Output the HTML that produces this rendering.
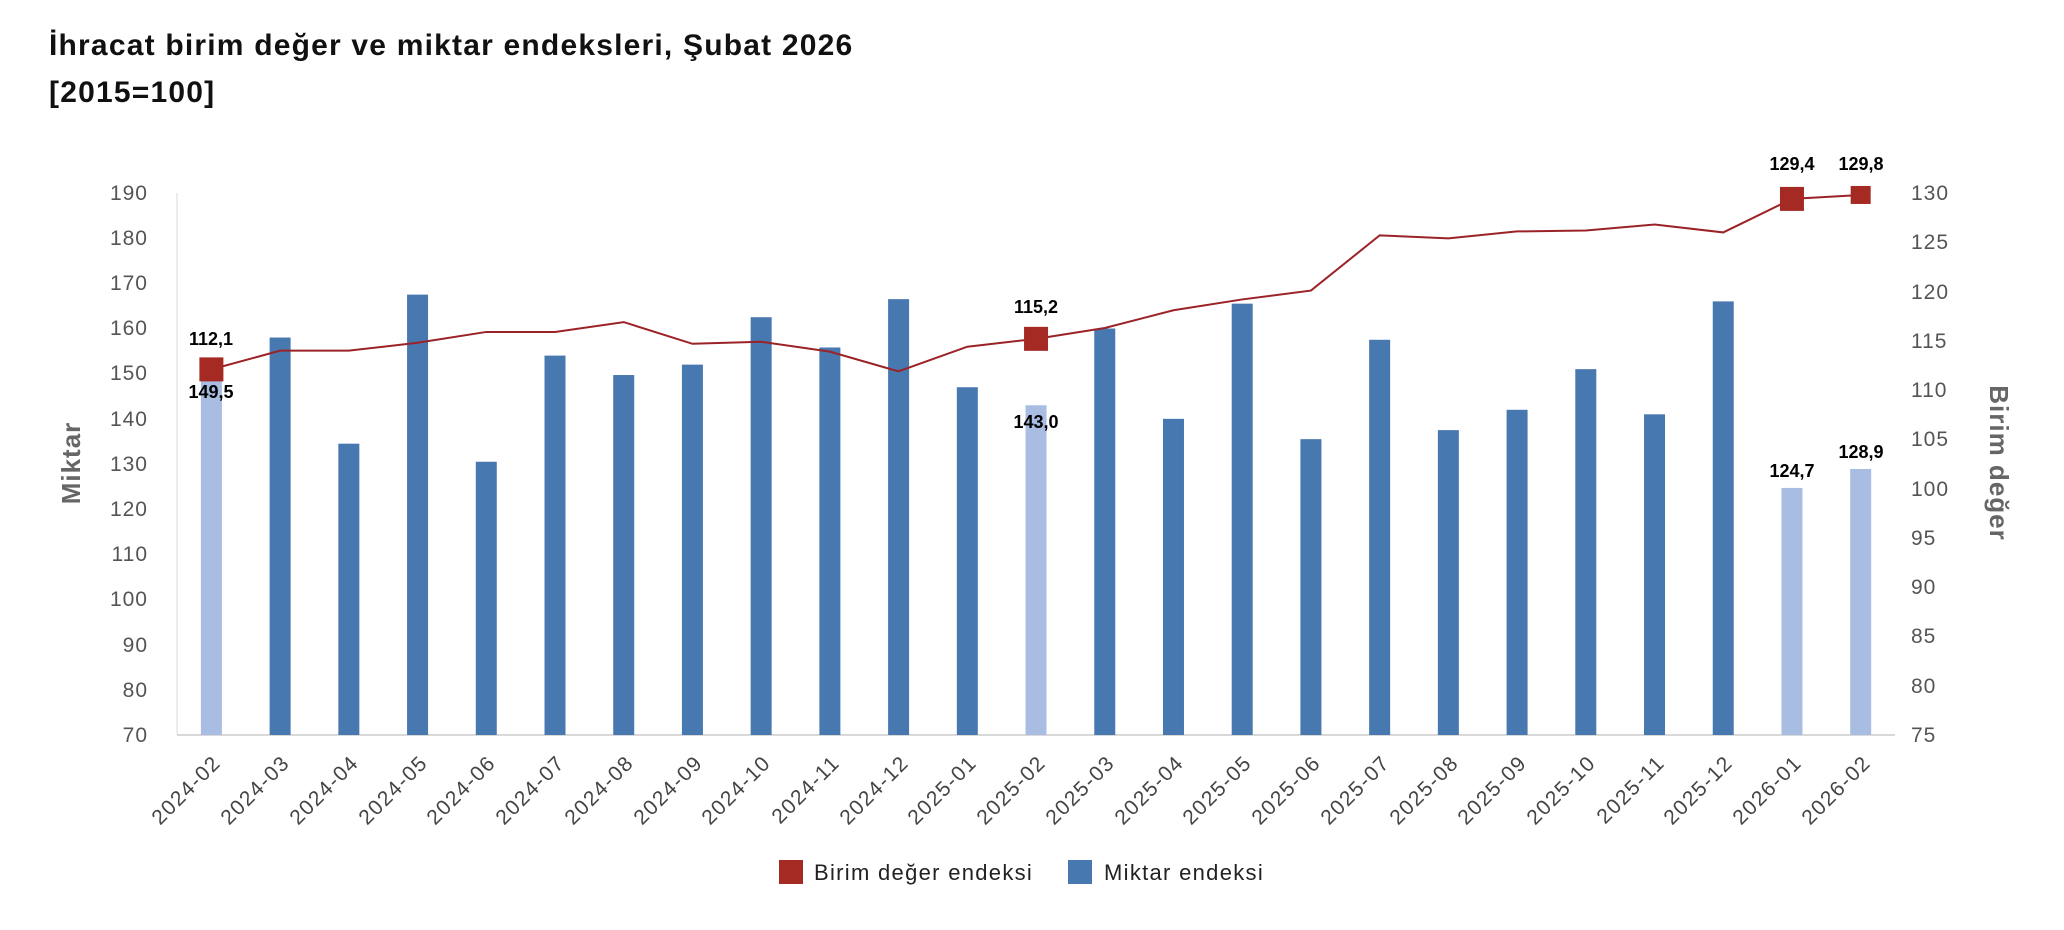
<!DOCTYPE html>
<html><head><meta charset="utf-8"><style>
html,body{margin:0;padding:0;background:#fff;}
svg{display:block;font-family:"Liberation Sans",sans-serif;}
</style></head><body>
<svg id="c" width="2064" height="930" viewBox="0 0 2064 930" xmlns="http://www.w3.org/2000/svg">
<text x="49" y="55" font-size="30" font-weight="bold" fill="#111" letter-spacing="1.2">İhracat birim değer ve miktar endeksleri, Şubat 2026</text>
<text x="49" y="102" font-size="30" font-weight="bold" fill="#111" letter-spacing="1.2">[2015=100]</text>
<line x1="177" y1="193" x2="177" y2="735" stroke="#e6e6e6" stroke-width="1.5"/>
<line x1="177" y1="735" x2="1895" y2="735" stroke="#d9d9d9" stroke-width="2"/>
<g id="bars"></g>
<g id="line"></g>
<g font-size="21" fill="#555" text-anchor="end" letter-spacing="1">
<text x="148" y="200">190</text><text x="148" y="245">180</text><text x="148" y="290">170</text><text x="148" y="335">160</text><text x="148" y="380">150</text><text x="148" y="426">140</text><text x="148" y="471">130</text><text x="148" y="516">120</text><text x="148" y="561">110</text><text x="148" y="606">100</text><text x="148" y="652">90</text><text x="148" y="697">80</text><text x="148" y="742">70</text>
</g>
<g font-size="21" fill="#555" letter-spacing="1">
<text x="1911" y="200">130</text><text x="1911" y="249">125</text><text x="1911" y="299">120</text><text x="1911" y="348">115</text><text x="1911" y="397">110</text><text x="1911" y="446">105</text><text x="1911" y="496">100</text><text x="1911" y="545">95</text><text x="1911" y="594">90</text><text x="1911" y="643">85</text><text x="1911" y="693">80</text><text x="1911" y="742">75</text>
</g>
<text transform="translate(80,463) rotate(-90)" font-size="26" font-weight="bold" fill="#666" text-anchor="middle" letter-spacing="1">Miktar</text>
<text transform="translate(1990,463) rotate(90)" font-size="26" font-weight="bold" fill="#666" text-anchor="middle" letter-spacing="1">Birim değer</text>
<g font-size="21" fill="#444" text-anchor="end" letter-spacing="1.5">
<text transform="translate(222,764) rotate(-45)">2024-02</text>
<text transform="translate(291,764) rotate(-45)">2024-03</text>
<text transform="translate(360,764) rotate(-45)">2024-04</text>
<text transform="translate(429,764) rotate(-45)">2024-05</text>
<text transform="translate(497,764) rotate(-45)">2024-06</text>
<text transform="translate(566,764) rotate(-45)">2024-07</text>
<text transform="translate(635,764) rotate(-45)">2024-08</text>
<text transform="translate(704,764) rotate(-45)">2024-09</text>
<text transform="translate(772,764) rotate(-45)">2024-10</text>
<text transform="translate(841,764) rotate(-45)">2024-11</text>
<text transform="translate(910,764) rotate(-45)">2024-12</text>
<text transform="translate(978,764) rotate(-45)">2025-01</text>
<text transform="translate(1047,764) rotate(-45)">2025-02</text>
<text transform="translate(1116,764) rotate(-45)">2025-03</text>
<text transform="translate(1185,764) rotate(-45)">2025-04</text>
<text transform="translate(1253,764) rotate(-45)">2025-05</text>
<text transform="translate(1322,764) rotate(-45)">2025-06</text>
<text transform="translate(1391,764) rotate(-45)">2025-07</text>
<text transform="translate(1460,764) rotate(-45)">2025-08</text>
<text transform="translate(1528,764) rotate(-45)">2025-09</text>
<text transform="translate(1597,764) rotate(-45)">2025-10</text>
<text transform="translate(1666,764) rotate(-45)">2025-11</text>
<text transform="translate(1734,764) rotate(-45)">2025-12</text>
<text transform="translate(1803,764) rotate(-45)">2026-01</text>
<text transform="translate(1872,764) rotate(-45)">2026-02</text>
</g>
<g font-size="18" font-weight="bold" fill="#000" text-anchor="middle">
<text x="211" y="345">112,1</text>
<text x="211" y="398">149,5</text>
<text x="1036" y="313">115,2</text>
<text x="1036" y="428">143,0</text>
<text x="1792" y="170">129,4</text>
<text x="1861" y="170">129,8</text>
<text x="1792" y="477">124,7</text>
<text x="1861" y="458">128,9</text>
</g>
<rect x="779" y="860" width="24" height="24" fill="#a52a24"/>
<text x="814" y="880" font-size="22" fill="#222" letter-spacing="1.3">Birim değer endeksi</text>
<rect x="1068" y="860" width="24" height="24" fill="#4878b0"/>
<text x="1104" y="880" font-size="22" fill="#222" letter-spacing="1.3">Miktar endeksi</text>
</svg>
<script>
var m=[149.5,158,134.5,167.5,130.5,154,149.7,152,162.5,155.8,166.5,147,143.0,160,140,165.5,135.5,157.5,137.5,142,151,141,166,124.7,128.9];
var b=[112.1,114.0,114.0,114.8,115.9,115.9,116.9,114.7,114.9,113.9,111.9,114.4,115.2,116.3,118.1,119.2,120.1,125.7,125.4,126.1,126.2,126.8,126.0,129.4,129.8];
var light={0:1,12:1,23:1,24:1};
var ns="http://www.w3.org/2000/svg";
function cx(i){return 211.4+68.72*i;}
function yl(v){return 735-(v-70)*542/120;}
function yr(v){return 735-(v-75)*542/55;}
var g=document.getElementById('bars');
for(var i=0;i<m.length;i++){var r=document.createElementNS(ns,'rect');var y=yl(m[i]);
r.setAttribute('x',cx(i)-10.5);r.setAttribute('y',y);r.setAttribute('width',21);r.setAttribute('height',735-y);
r.setAttribute('fill',light[i]?'#a9bde3':'#4878b0');g.appendChild(r);}
var L=document.getElementById('line');var pts=[];
for(var i=0;i<b.length;i++)pts.push(cx(i)+','+yr(b[i]));
var p=document.createElementNS(ns,'polyline');p.setAttribute('points',pts.join(' '));p.setAttribute('fill','none');
p.setAttribute('stroke','#9b2226');p.setAttribute('stroke-width','2');L.appendChild(p);
[0,12,23,24].forEach(function(i){var r=document.createElementNS(ns,'rect');var s=i==24?20:24;
r.setAttribute('x',cx(i)-s/2);r.setAttribute('y',yr(b[i])-(i==24?9:12));r.setAttribute('width',s);r.setAttribute('height',i==24?18:24);
r.setAttribute('fill','#a52a24');L.appendChild(r);});
</script>
</body></html>
